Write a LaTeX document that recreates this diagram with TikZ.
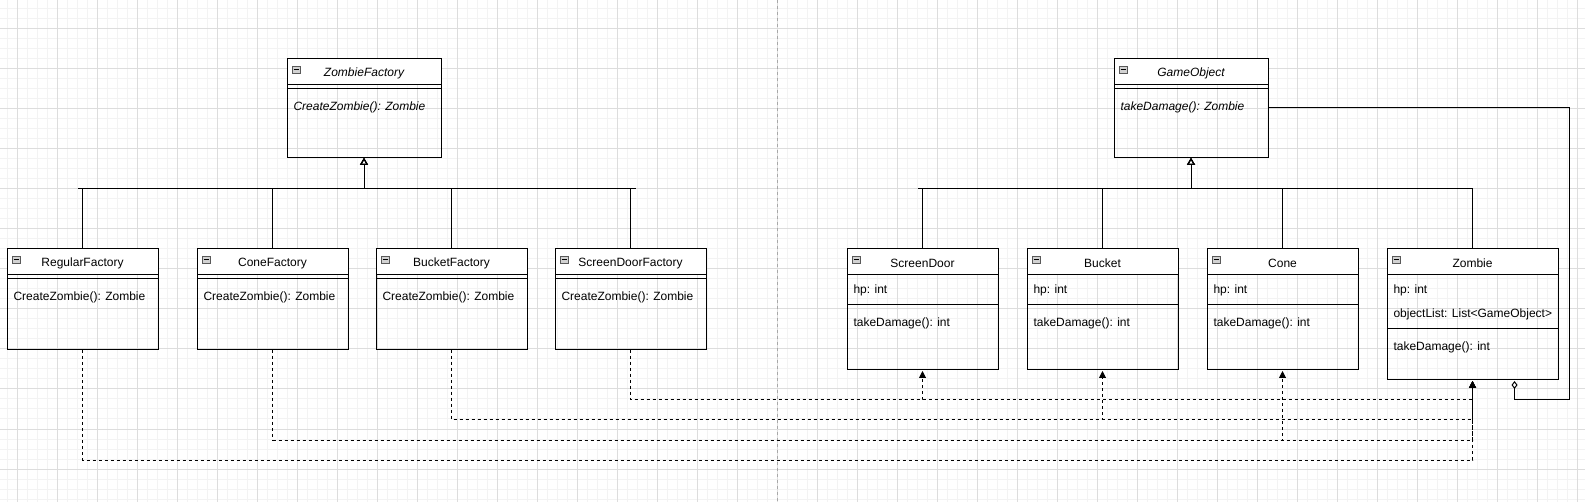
\documentclass[tikz,border=0pt]{standalone}
\usepackage{fontspec}
\setmainfont{Liberation Sans}
\usetikzlibrary{calc,arrows.meta}
\definecolor{gridmajor}{HTML}{DDDDDD}
\definecolor{gridminor}{HTML}{F3F3F3}
\definecolor{pageline}{HTML}{A8A8A8}

\begin{document}
\begin{tikzpicture}[x=1pt, y=-1pt, line width=1pt]

    \tikzstyle{cls}=[rectangle, anchor=north west, inner sep=0pt, minimum width=150pt];
    \tikzstyle{clsname}=[inner sep=0pt, font=\fontsize{12}{14}\selectfont];
    \tikzstyle{member}=[inner sep=0pt, anchor=west, font=\fontsize{12}{14}\selectfont];
    \tikzstyle{abstract}=[font=\fontsize{12}{14}\selectfont\itshape];
    \tikzstyle{icon}=[draw=gray!70!black, fill=gray!35, line width=0.6pt];
    \tikzstyle{gen}=[-{Triangle[open, width=8pt, length=7pt]}];
    \tikzstyle{dep}=[dash pattern=on 3pt off 3pt, -{Triangle[width=7pt, length=7pt]}, shorten >=1pt];

    \useasboundingbox (0,0) rectangle (1585,502);

    % grid and page break
    \fill[white] (0,0) rectangle (1585,502);
    \foreach \gx in {7,17,...,1585} \draw[gridminor] (\gx,0) -- (\gx,502);
    \foreach \gy in {9,19,...,502} \draw[gridminor] (0,\gy) -- (1585,\gy);
    \foreach \gx in {17,57,...,1585} \draw[gridmajor] (\gx,0) -- (\gx,502);
    \foreach \gy in {29,69,...,502} \draw[gridmajor] (0,\gy) -- (1585,\gy);
    \draw[pageline, dash pattern=on 3pt off 3pt] (777.5,0) -- (777.5,502);

    \node[cls, minimum width=153pt, minimum height=98pt] (zf) at (287,59) {};
    \node[cls, minimum width=153pt, minimum height=98pt] (go) at (1114,59) {};

    \node[cls, minimum height=100pt] (rf) at (7,249) {};
    \node[cls, minimum height=100pt] (cf) at (197,249) {};
    \node[cls, minimum height=100pt] (bf) at (376,249) {};
    \node[cls, minimum height=100pt] (sf) at (555,249) {};

    \node[cls, minimum height=120pt] (sd) at (847,249) {};
    \node[cls, minimum height=120pt] (bk) at (1027,249) {};
    \node[cls, minimum height=120pt] (cn) at (1207,249) {};
    \node[cls, minimum width=170pt, minimum height=130pt] (zb) at (1387,249) {};

    % headers and borders
    \foreach \n in {zf,go,rf,cf,bf,sf,sd,bk,cn,zb} {
        \fill[white] (\n.north west) rectangle ($(\n.north east)+(0,26)$);
        \draw (\n.north west) rectangle (\n.south east);
        \draw ($(\n.north west)+(0,26)$) -- ($(\n.north east)+(0,26)$);
        \draw[icon] ($(\n.north west)+(5,7)$) rectangle ++(8,7);
        \draw[line width=0.8pt] ($(\n.north west)+(6.5,10.5)$) -- ++(5,0);
    }
    \foreach \n in {zf,go,rf,cf,bf,sf} \draw ($(\n.north west)+(0,30)$) -- ($(\n.north east)+(0,30)$);
    \foreach \n in {sd,bk,cn} \draw ($(\n.north west)+(0,56)$) -- ($(\n.north east)+(0,56)$);
    \draw ($(zb.north west)+(0,80)$) -- ($(zb.north east)+(0,80)$);

    \node[clsname, abstract] (zf-t) at ($(zf.north)+(0,14.5)$) {ZombieFactory};
    \node[member, abstract] (zf-m) at ($(zf.north west)+(6,48.5)$) {CreateZombie(): Zombie};

    \node[clsname, abstract] (go-t) at ($(go.north)+(0,14.5)$) {GameObject};
    \node[member, abstract] (go-m) at ($(go.north west)+(6,48.5)$) {takeDamage(): Zombie};

    \node[clsname] (rf-t) at ($(rf.north)+(0,14.5)$) {RegularFactory};
    \node[member] (rf-m) at ($(rf.north west)+(6,48.5)$) {CreateZombie(): Zombie};

    \node[clsname] (cf-t) at ($(cf.north)+(0,14.5)$) {ConeFactory};
    \node[member] (cf-m) at ($(cf.north west)+(6,48.5)$) {CreateZombie(): Zombie};

    \node[clsname] (bf-t) at ($(bf.north)+(0,14.5)$) {BucketFactory};
    \node[member] (bf-m) at ($(bf.north west)+(6,48.5)$) {CreateZombie(): Zombie};

    \node[clsname] (sf-t) at ($(sf.north)+(0,14.5)$) {ScreenDoorFactory};
    \node[member] (sf-m) at ($(sf.north west)+(6,48.5)$) {CreateZombie(): Zombie};

    \node[clsname] (sd-t) at ($(sd.north)+(0,14.5)$) {ScreenDoor};
    \node[member] (sd-a) at ($(sd.north west)+(6,41.5)$) {hp: int};
    \node[member] (sd-m) at ($(sd.north west)+(6,74.5)$) {takeDamage(): int};

    \node[clsname] (bk-t) at ($(bk.north)+(0,14.5)$) {Bucket};
    \node[member] (bk-a) at ($(bk.north west)+(6,41.5)$) {hp: int};
    \node[member] (bk-m) at ($(bk.north west)+(6,74.5)$) {takeDamage(): int};

    \node[clsname] (cn-t) at ($(cn.north)+(0,14.5)$) {Cone};
    \node[member] (cn-a) at ($(cn.north west)+(6,41.5)$) {hp: int};
    \node[member] (cn-m) at ($(cn.north west)+(6,74.5)$) {takeDamage(): int};

    \node[clsname] (zb-t) at ($(zb.north)+(0,14.5)$) {Zombie};
    \node[member] (zb-a) at ($(zb.north west)+(6,41.5)$) {hp: int};
    \node[member] (zb-l) at ($(zb.north west)+(6,65)$) {objectList: List<GameObject>};
    \node[member] (zb-m) at ($(zb.north west)+(6,98.5)$) {takeDamage(): int};

    % inheritance
    \draw[gen] (rf.north) -- ++(0,-60) -| (zf.south);
    \draw[gen] (cf.north) -- ++(0,-60) -| (zf.south);
    \draw[gen] (bf.north) -- ++(0,-60) -| (zf.south);
    \draw[gen] (sf.north) -- ++(0,-60) -| (zf.south);
    \draw ($(rf.north)+(0,-60)$) -- ++(-5,0);
    \draw ($(sf.north)+(0,-60)$) -- ++(5,0);

    \draw[gen] (sd.north) -- ++(0,-60) -| (go.south);
    \draw[gen] (bk.north) -- ++(0,-60) -| (go.south);
    \draw[gen] (cn.north) -- ++(0,-60) -| (go.south);
    \draw[gen] (zb.north) -- ++(0,-60) -| (go.south);
    \draw ($(sd.north)+(0,-60)$) -- ++(-5,0);

    % dependencies
    \draw[dep] (sf.south) -- ++(0,50) -| (sd.south);
    \draw[dep] (sf.south) -- ++(0,50) -| (zb.south);
    \draw[dep] (bf.south) -- ++(0,70) -| (bk.south);
    \draw[dep] (bf.south) -- ++(0,70) -| (zb.south);
    \draw[dep] (cf.south) -- ++(0,90) -| (cn.south);
    \draw[dep] (cf.south) -- ++(0,90) -| (zb.south);
    \draw[dep] (rf.south) -- ++(0,110) -| (zb.south);

    % aggregation
    \coordinate (agg) at ($(go.east)+(301,-1)$);
    \draw[{Diamond[open, width=6pt, length=8pt]}-, shorten <=1pt] ($(zb.south)+(42,0)$) -- ++(0,20) -| (agg) -- (go.east |- agg);
\end{tikzpicture}
\end{document}
